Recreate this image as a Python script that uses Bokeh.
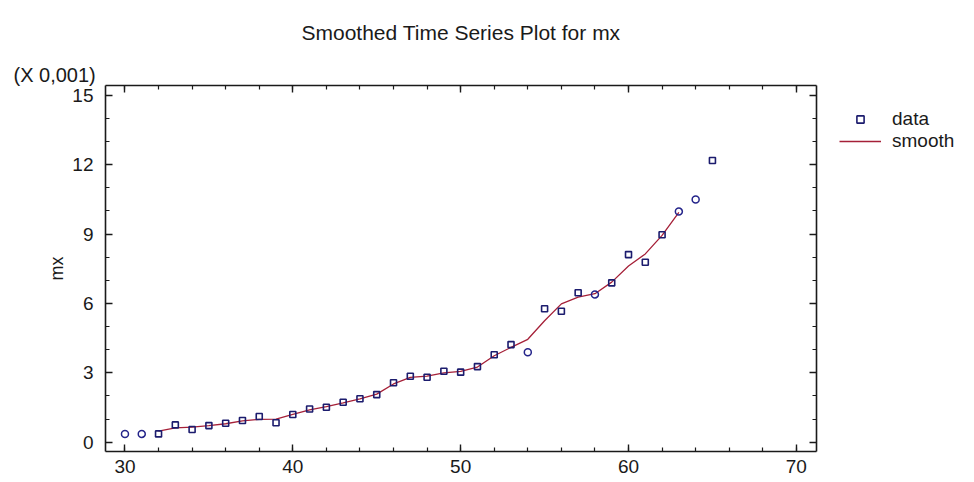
from bokeh.plotting import figure
from bokeh.layouts import row
from bokeh.models import (Range1d, LinearAxis, SingleIntervalTicker, Title, Legend,
                          LegendItem)
from bokeh.embed import file_html
from bokeh.resources import INLINE

# ---- data (mx in units of 0.001) ----
ages = list(range(30, 66))
mx = [0.36, 0.36, 0.36, 0.75, 0.55, 0.72, 0.82, 0.94, 1.11, 0.84,
      1.20, 1.44, 1.51, 1.73, 1.88, 2.06, 2.57, 2.85, 2.81, 3.07,
      3.03, 3.27, 3.78, 4.22, 3.89, 5.77, 5.66, 6.46, 6.39, 6.89,
      8.11, 7.78, 8.97, 9.97, 10.49, 12.18]
# points drawn as circles (the rest as squares)
circle_ages = [30, 31, 54, 58, 63, 64]

smooth_ages = list(range(32, 64))
smooth = [0.48, 0.62, 0.65, 0.72, 0.80, 0.92, 0.99, 1.00, 1.20, 1.40,
          1.54, 1.70, 1.87, 2.08, 2.52, 2.80, 2.86, 3.00, 3.06, 3.25,
          3.74, 4.10, 4.45, 5.25, 5.98, 6.27, 6.42, 6.92, 7.62, 8.14,
          8.94, 9.94]

x_ticks = [30, 40, 50, 60, 70]
y_ticks = [0, 3, 6, 9, 12, 15]

title_text = "Smoothed Time Series Plot for mx"
scale_text = "(X 0,001)"
y_label = "mx"
legend_labels = ["data", "smooth"]

sq_x = [a for a in ages if a not in circle_ages]
sq_y = [v for a, v in zip(ages, mx) if a not in circle_ages]
ci_x = [a for a in ages if a in circle_ages]
ci_y = [v for a, v in zip(ages, mx) if a in circle_ages]

FONT = "Liberation Sans"
INK = "#1a1a1a"
LINE_C = "#a52038"
SQ_C = "#1c1c6e"

p = figure(output_backend="svg", toolbar_location=None,
           x_range=Range1d(28.84, 71.2), y_range=Range1d(-0.40, 15.42),
           frame_width=711, frame_height=366,
           min_border_left=105, min_border_top=85, min_border_right=20,
           min_border_bottom=27, x_axis_location=None, y_axis_location=None)
p.xgrid.visible = False
p.ygrid.visible = False
p.outline_line_color = None
p.background_fill_color = "white"
p.border_fill_color = "white"


def style_axis(ax, major, minor_n, show_labels, standoff, ticks):
    ax.ticker = SingleIntervalTicker(interval=major, num_minor_ticks=minor_n)
    ax.axis_line_color = INK
    ax.axis_line_width = 1.6
    ax.major_tick_in = 7
    ax.major_tick_out = 0
    ax.minor_tick_in = 4
    ax.minor_tick_out = 0
    ax.major_tick_line_color = INK
    ax.minor_tick_line_color = INK
    ax.major_tick_line_width = 1.4
    ax.minor_tick_line_width = 1.2
    ax.major_label_text_font = FONT
    ax.major_label_text_font_size = "19px"
    ax.major_label_text_color = INK
    ax.major_label_standoff = standoff
    if not show_labels:
        ax.major_label_overrides = {t: "" for t in ticks}
        ax.major_label_text_alpha = 0


xb = LinearAxis()
style_axis(xb, 10, 5, True, 8, x_ticks)
p.add_layout(xb, "below")
xt = LinearAxis()
style_axis(xt, 10, 5, False, 0, x_ticks)
p.add_layout(xt, "above")

yl = LinearAxis(axis_label=y_label)
style_axis(yl, 3, 3, True, 12, y_ticks)
yl.axis_label_text_font = FONT
yl.axis_label_text_font_size = "18px"
yl.axis_label_text_font_style = "normal"
yl.axis_label_text_color = INK
yl.axis_label_standoff = 2
p.add_layout(yl, "left")
yr = LinearAxis()
style_axis(yr, 3, 3, False, 0, y_ticks)
p.add_layout(yr, "right")

line = p.line(smooth_ages, smooth, line_color=LINE_C, line_width=1.3)
sq = p.scatter(sq_x, sq_y, marker="square", size=6, fill_color=None,
               line_color=SQ_C, line_width=1.6)
ci = p.scatter(ci_x, ci_y, marker="circle", size=7, fill_color=None,
               line_color="#24248a", line_width=1.5)

p.add_layout(Title(text=scale_text, align="left", offset=-92, standoff=0,
                   text_line_height=0.7,
                   text_font=FONT, text_font_size="20px",
                   text_font_style="normal", text_color=INK), "above")
p.add_layout(Title(text=title_text, align="center", offset=2, standoff=35,
                   text_font=FONT, text_font_size="21px",
                   text_font_style="normal", text_color=INK), "above")

# legend panel to the right of the plot; its key renderers reuse the series
# but lie outside this panel's ranges, so only the legend keys are drawn
lg = figure(width=130, height=466, output_backend="svg", toolbar_location=None,
            x_range=Range1d(0, 1), y_range=Range1d(0, 1), min_border=0,
            x_axis_location=None, y_axis_location=None)
lg.xgrid.visible = False
lg.ygrid.visible = False
lg.outline_line_color = None
lg.background_fill_color = "white"
lg.border_fill_color = "white"
lg_sq = lg.scatter(sq_x, sq_y, marker="square", size=6, fill_color=None,
                   line_color=SQ_C, line_width=1.6)
lg_ln = lg.line(smooth_ages, smooth, line_color=LINE_C, line_width=1.3)
legend = Legend(items=[LegendItem(label=legend_labels[0], renderers=[lg_sq]),
                       LegendItem(label=legend_labels[1], renderers=[lg_ln])],
                location=(3, 287), orientation="vertical",
                glyph_width=42, glyph_height=18, label_height=18,
                label_standoff=11, spacing=0, padding=0, margin=0,
                border_line_color=None, background_fill_alpha=0,
                label_text_font=FONT, label_text_font_size="19px",
                label_text_color=INK)
lg.add_layout(legend, "center")

layout = row(p, lg, spacing=0)
open("out.html", "w").write(file_html(layout, INLINE))
